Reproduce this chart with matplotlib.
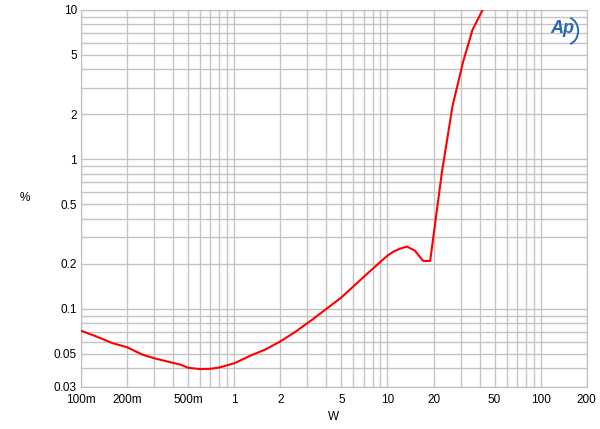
import matplotlib
matplotlib.use("Agg")
import matplotlib.pyplot as plt
from matplotlib.patches import Arc
from matplotlib.ticker import FixedLocator, NullFormatter, LogLocator

# THD+N vs output power
power_w = [0.1, 0.125, 0.16, 0.2, 0.25, 0.3, 0.38, 0.45, 0.5, 0.6, 0.7, 0.8,
           1.0, 1.3, 1.6, 2.0, 2.5, 3.2, 4.0, 5.0, 6.3, 8.0, 10, 11, 12,
           13.4, 15.1, 17.1, 19.0, 22.7, 26.6, 31.2, 35.9, 42, 45]
thd_pct = [0.0713, 0.0655, 0.059, 0.0553, 0.0495, 0.0467, 0.0440, 0.0422,
           0.0403, 0.0395, 0.0397, 0.0405, 0.0432, 0.049, 0.0535, 0.0605,
           0.070, 0.084, 0.100, 0.119, 0.148, 0.185, 0.227, 0.242, 0.252,
           0.261, 0.245, 0.209, 0.209, 0.827, 2.28, 4.51, 7.35, 10.1, 11.5]

x_ticks = [0.1, 0.2, 0.5, 1, 2, 5, 10, 20, 50, 100, 200]
x_labels = ["100m", "200m", "500m", "1", "2", "5", "10", "20", "50", "100", "200"]
y_ticks = [0.03, 0.05, 0.1, 0.2, 0.5, 1, 2, 5, 10]
y_labels = ["0.03", "0.05", "0.1", "0.2", "0.5", "1", "2", "5", "10"]

plt.rcParams["font.family"] = ["Liberation Sans", "DejaVu Sans"]

fig = plt.figure(figsize=(6, 4.29), dpi=100)
ax = fig.add_axes([0.135, 0.098, 0.843, 0.879])

ax.plot(power_w, thd_pct, color="#ff0000", lw=1.5, zorder=3)

ax.set_xscale("log")
ax.set_yscale("log")
ax.set_xlim(0.1, 200)
ax.set_ylim(0.03, 10)

ax.xaxis.set_major_locator(FixedLocator(x_ticks))
ax.set_xticklabels(x_labels)
ax.yaxis.set_major_locator(FixedLocator(y_ticks))
ax.set_yticklabels(y_labels)
ax.xaxis.set_minor_locator(LogLocator(base=10, subs=range(1, 10), numticks=20))
ax.yaxis.set_minor_locator(LogLocator(base=10, subs=range(1, 10), numticks=20))
ax.xaxis.set_minor_formatter(NullFormatter())
ax.yaxis.set_minor_formatter(NullFormatter())

ax.grid(which="both", color="#c4c4c4", lw=1.0)
ax.tick_params(which="both", length=0, labelsize=8.5, pad=3)
ax.tick_params(axis="x", pad=5)
for s in ax.spines.values():
    s.set_color("#bdbdbd")

ax.set_xlabel("W", fontsize=8.5, labelpad=4)
fig.text(0.042, 0.538, "%", fontsize=8.5, ha="center", va="center")

# Ap logo
ax.text(0.952, 0.972, "Ap", transform=ax.transAxes, fontsize=13,
        fontstyle="italic", fontweight="bold", color="#2a68b0",
        ha="center", va="top", zorder=4)
ax.add_patch(Arc((0.958, 0.944), 0.05, 0.075, angle=0, theta1=-75, theta2=75,
                 transform=ax.transAxes, color="#2a68b0", lw=1.4, zorder=4))

fig.savefig("out.png", dpi=100)
